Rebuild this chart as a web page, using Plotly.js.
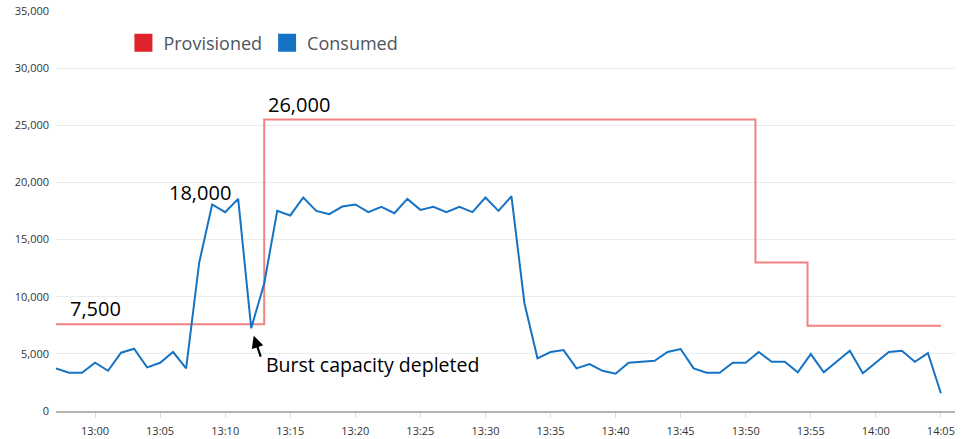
<!DOCTYPE html>
<html>
<head>
<meta charset="utf-8">
<script src="https://cdn.plot.ly/plotly-3.0.1.min.js"></script>
<style>
  html, body { margin: 0; padding: 0; background: #ffffff; }
  #chart { width: 977px; height: 439px; }
</style>
</head>
<body>
<div id="chart"></div>
<script>
// ---- data ----
const DAY = '2024-01-01';

const times = [
  '12:57','12:58','12:59','13:00','13:01','13:02','13:03','13:04','13:05','13:06',
  '13:07','13:08','13:09','13:10','13:11','13:12','13:13','13:14','13:15','13:16',
  '13:17','13:18','13:19','13:20','13:21','13:22','13:23','13:24','13:25','13:26',
  '13:27','13:28','13:29','13:30','13:31','13:32','13:33','13:34','13:35','13:36',
  '13:37','13:38','13:39','13:40','13:41','13:42','13:43','13:44','13:45','13:46',
  '13:47','13:48','13:49','13:50','13:51','13:52','13:53','13:54','13:55','13:56',
  '13:57','13:58','13:59','14:00','14:01','14:02','14:03','14:04','14:05'
];

const consumed = [
  3730, 3350, 3350, 4220, 3520, 5100, 5450, 3820, 4220, 5160,
  3730, 12960, 18070, 17400, 18560, 7250, 11160, 17510, 17110, 18680,
  17510, 17220, 17890, 18070, 17400, 17860, 17310, 18560, 17600, 17860,
  17400, 17860, 17400, 18680, 17510, 18790, 9410, 4610, 5160, 5330,
  3730, 4110, 3520, 3260, 4220, 4310, 4400, 5160, 5420, 3730,
  3350, 3350, 4220, 4220, 5160, 4310, 4310, 3380, 4980, 3380,
  4300, 5270, 3300, 4220, 5160, 5270, 4310, 5070, 1550
];

const provisionedTimes  = ['12:57', '13:13', '13:50:45', '13:54:45', '14:05'];
const provisionedValues = [7600, 25500, 13000, 7450, 7450];

const seriesNames = ['Provisioned', 'Consumed'];
const annotationLabels = ['7,500', '18,000', '26,000', 'Burst capacity depleted'];
const yTickValues = [0, 5000, 10000, 15000, 20000, 25000, 30000, 35000];

// ---- build ----
const ts = t => DAY + ' ' + t;
const xConsumed = times.map(ts);
const xProv = provisionedTimes.map(ts);

const RED_LINE = '#f28282';
const RED_KEY = '#e0232b';
const BLUE = '#1673c4';

const traces = [
  {
    x: xProv, y: provisionedValues, type: 'scatter', mode: 'lines',
    line: { color: RED_LINE, width: 2, shape: 'hv' },
    showlegend: false, hoverinfo: 'skip'
  },
  {
    x: xConsumed, y: consumed, type: 'scatter', mode: 'lines',
    line: { color: BLUE, width: 2 },
    showlegend: false, hoverinfo: 'skip'
  },
  {
    x: [null], y: [null], type: 'scatter', mode: 'markers', name: seriesNames[0],
    marker: { symbol: 'square', size: 16, color: RED_KEY, line: { color: RED_KEY, width: 2 } }
  },
  {
    x: [null], y: [null], type: 'scatter', mode: 'markers', name: seriesNames[1],
    marker: { symbol: 'square', size: 16, color: BLUE, line: { color: BLUE, width: 2 } }
  }
];

const idx1311 = times.indexOf('13:11');
const idx1312 = times.indexOf('13:12');
const annFont = { family: 'Open Sans, Noto Sans, sans-serif', size: 20, color: '#000000' };

const layout = {
  width: 977, height: 439,
  margin: { l: 56, r: 22, t: 11, b: 28 },
  paper_bgcolor: '#ffffff', plot_bgcolor: '#ffffff',
  font: { family: 'Open Sans, sans-serif', size: 11, color: '#333333' },
  showlegend: true,
  legend: {
    orientation: 'h', x: 0.075, xanchor: 'left', y: 0.92, yanchor: 'middle',
    bgcolor: 'rgba(0,0,0,0)', itemwidth: 30, traceorder: 'normal',
    font: { family: 'Open Sans, sans-serif', size: 18, color: '#4f555c' }
  },
  xaxis: {
    type: 'date',
    range: [ts('12:57'), ts('14:06:05')],
    tick0: ts('13:00'), dtick: 5 * 60 * 1000,
    tickformat: '%H:%M',
    showgrid: false, zeroline: false,
    showline: true, linecolor: '#b4b4b4', linewidth: 2,
    ticks: 'outside', ticklen: 5, tickcolor: '#dddddd', tickwidth: 1,
    ticklabelstandoff: 4,
    tickfont: { family: 'Open Sans, sans-serif', size: 11, color: '#333333' },
    fixedrange: true
  },
  yaxis: {
    range: [0, 35000],
    tickvals: yTickValues,
    tickformat: ',d',
    showgrid: true, gridcolor: '#eaeded', gridwidth: 1,
    zeroline: false, showline: false, ticks: '',
    ticklabelstandoff: 6,
    tickfont: { family: 'Open Sans, sans-serif', size: 11, color: '#333333' },
    fixedrange: true
  },
  annotations: [
    {
      x: xProv[0], y: provisionedValues[0], text: annotationLabels[0],
      xanchor: 'left', yanchor: 'bottom', xshift: 12, showarrow: false, font: annFont
    },
    {
      x: xConsumed[idx1311], y: consumed[idx1311], text: annotationLabels[1],
      xanchor: 'right', yanchor: 'middle', xshift: -5, yshift: 6, showarrow: false, font: annFont
    },
    {
      x: xProv[1], y: provisionedValues[1], text: annotationLabels[2],
      xanchor: 'left', yanchor: 'bottom', xshift: 2, showarrow: false, font: annFont
    },
    {
      x: xConsumed[idx1312], y: consumed[idx1312], text: annotationLabels[3],
      xanchor: 'left', yanchor: 'middle', xshift: 13, yshift: -36, showarrow: false,
      font: { family: annFont.family, size: 19.5, color: '#000000' }
    },
    {
      x: xConsumed[idx1312], y: consumed[idx1312], text: '',
      showarrow: true, arrowhead: 2, arrowsize: 1.1, arrowwidth: 2.2, arrowcolor: '#000000',
      ax: 10, ay: 30, standoff: 8
    }
  ]
};

Plotly.newPlot('chart', traces, layout, { staticPlot: true, displayModeBar: false });
</script>
</body>
</html>
